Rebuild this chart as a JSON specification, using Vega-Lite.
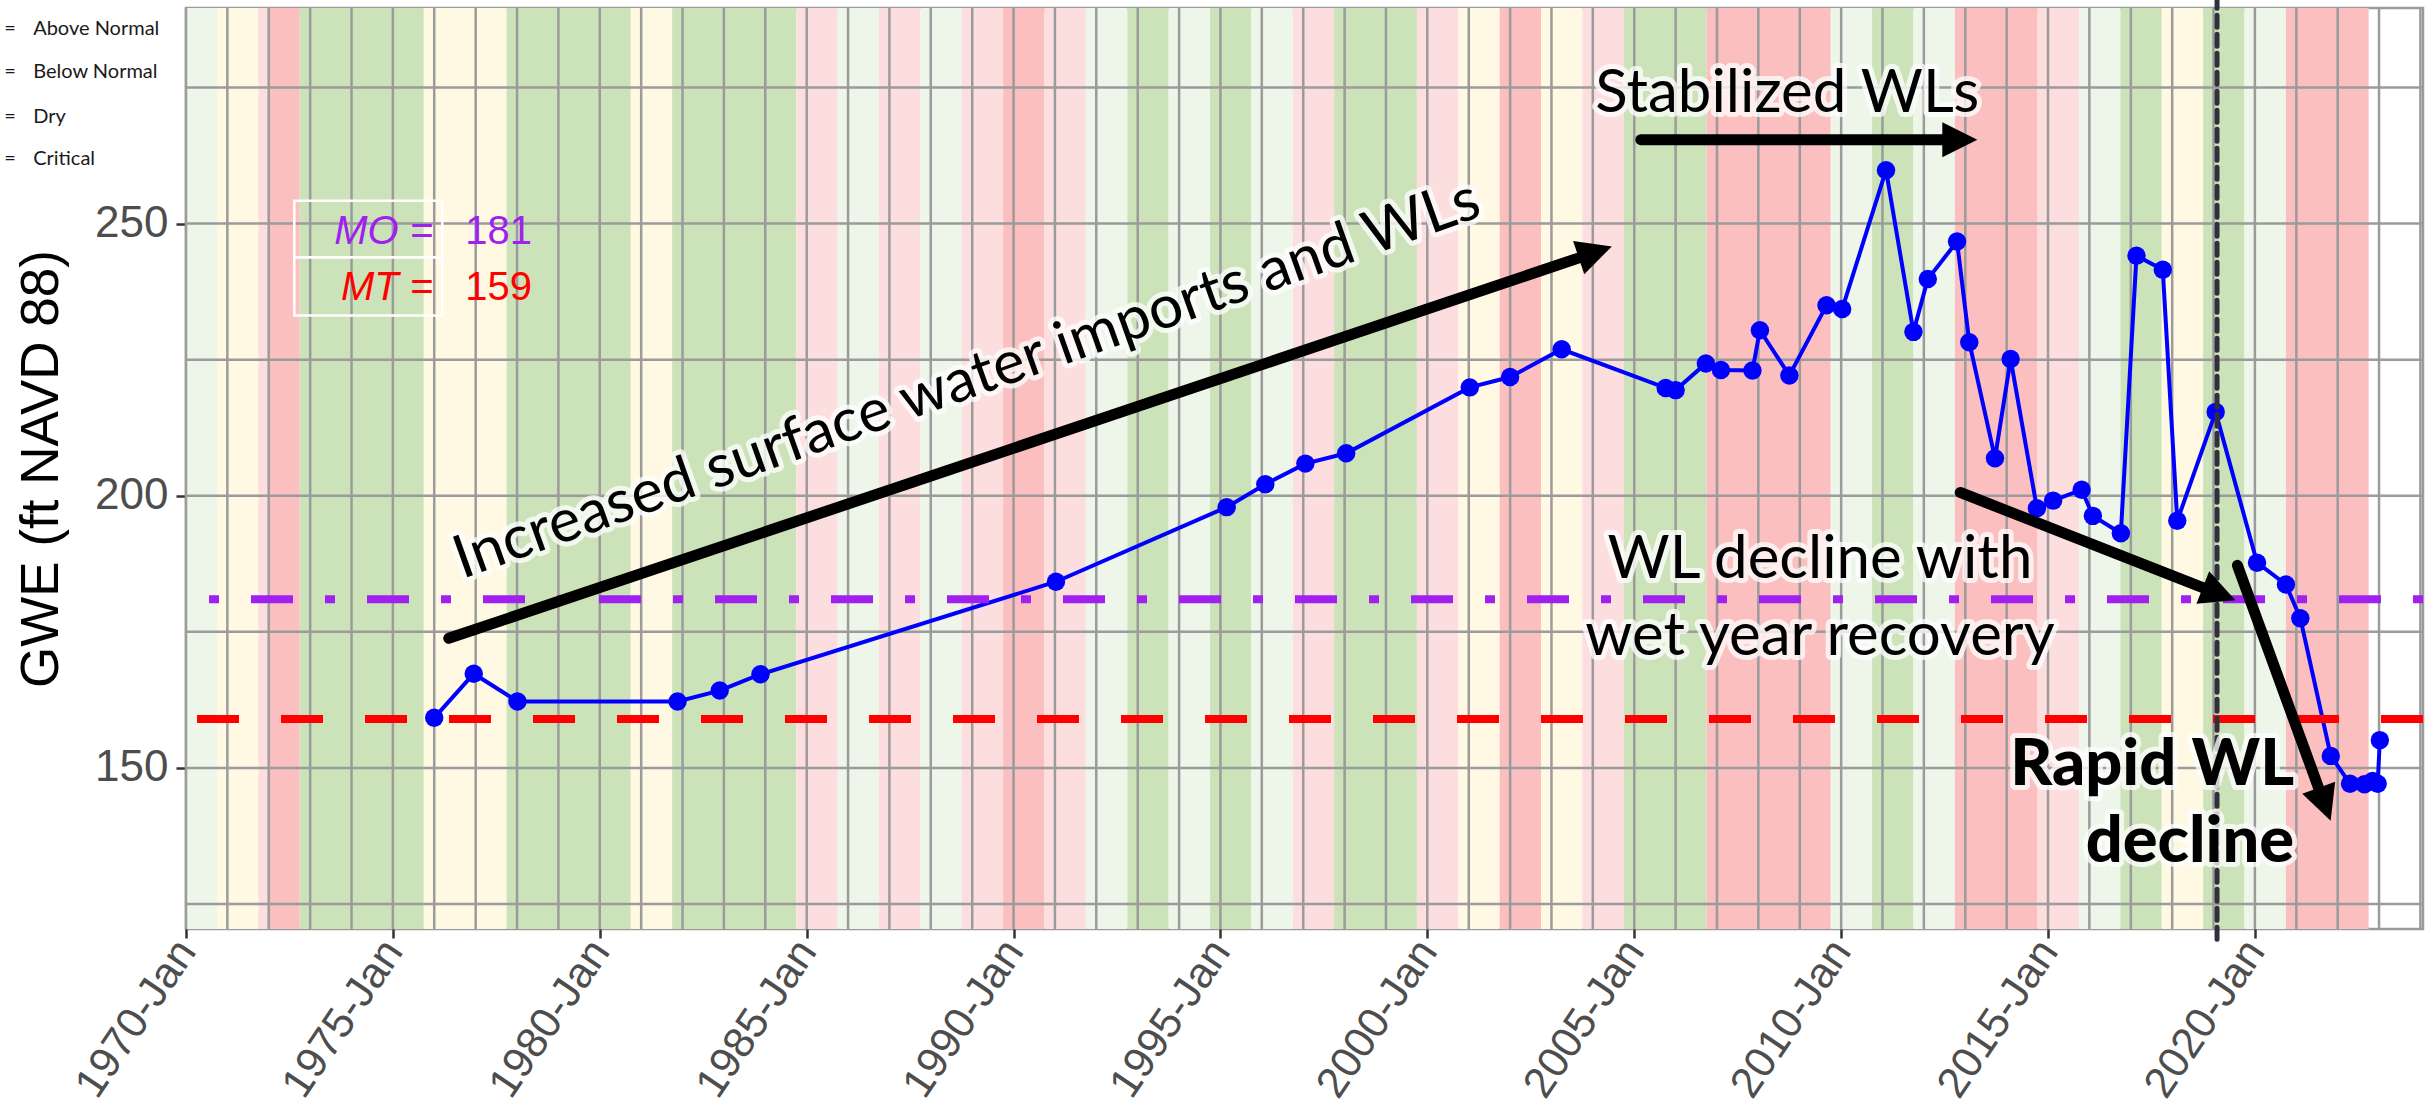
{
  "$schema": "https://vega.github.io/schema/vega-lite/v6.json",
  "width": 2237,
  "height": 921,
  "autosize": {"type": "none"},
  "padding": {"left": 186, "top": 8, "right": 12, "bottom": 178},
  "background": "white",
  "config": {"view": {"stroke": "#9B9B9B", "strokeWidth": 2.5}},
  "datasets": {
    "bands": [
      {"start": "1970-01-01", "end": "1970-10-01", "type": "Above Normal"},
      {"start": "1970-10-01", "end": "1971-10-01", "type": "Below Normal"},
      {"start": "1971-10-01", "end": "1972-01-01", "type": "Dry"},
      {"start": "1972-01-01", "end": "1972-10-01", "type": "Critical"},
      {"start": "1972-10-01", "end": "1975-10-01", "type": "Wet"},
      {"start": "1975-10-01", "end": "1977-10-01", "type": "Below Normal"},
      {"start": "1977-10-01", "end": "1980-10-01", "type": "Wet"},
      {"start": "1980-10-01", "end": "1981-10-01", "type": "Below Normal"},
      {"start": "1981-10-01", "end": "1984-10-01", "type": "Wet"},
      {"start": "1984-10-01", "end": "1985-10-01", "type": "Dry"},
      {"start": "1985-10-01", "end": "1986-10-01", "type": "Above Normal"},
      {"start": "1986-10-01", "end": "1987-10-01", "type": "Dry"},
      {"start": "1987-10-01", "end": "1988-10-01", "type": "Above Normal"},
      {"start": "1988-10-01", "end": "1989-10-01", "type": "Dry"},
      {"start": "1989-10-01", "end": "1990-10-01", "type": "Critical"},
      {"start": "1990-10-01", "end": "1991-10-01", "type": "Dry"},
      {"start": "1991-10-01", "end": "1992-10-01", "type": "Above Normal"},
      {"start": "1992-10-01", "end": "1993-10-01", "type": "Wet"},
      {"start": "1993-10-01", "end": "1994-10-01", "type": "Above Normal"},
      {"start": "1994-10-01", "end": "1995-10-01", "type": "Wet"},
      {"start": "1995-10-01", "end": "1996-10-01", "type": "Above Normal"},
      {"start": "1996-10-01", "end": "1997-10-01", "type": "Dry"},
      {"start": "1997-10-01", "end": "1999-10-01", "type": "Wet"},
      {"start": "1999-10-01", "end": "2000-10-01", "type": "Dry"},
      {"start": "2000-10-01", "end": "2001-10-01", "type": "Below Normal"},
      {"start": "2001-10-01", "end": "2002-10-01", "type": "Critical"},
      {"start": "2002-10-01", "end": "2003-10-01", "type": "Below Normal"},
      {"start": "2003-10-01", "end": "2004-10-01", "type": "Dry"},
      {"start": "2004-10-01", "end": "2006-10-01", "type": "Wet"},
      {"start": "2006-10-01", "end": "2009-10-01", "type": "Critical"},
      {"start": "2009-10-01", "end": "2010-10-01", "type": "Above Normal"},
      {"start": "2010-10-01", "end": "2011-10-01", "type": "Wet"},
      {"start": "2011-10-01", "end": "2012-10-01", "type": "Above Normal"},
      {"start": "2012-10-01", "end": "2014-10-01", "type": "Critical"},
      {"start": "2014-10-01", "end": "2015-10-01", "type": "Dry"},
      {"start": "2015-10-01", "end": "2016-10-01", "type": "Above Normal"},
      {"start": "2016-10-01", "end": "2017-10-01", "type": "Wet"},
      {"start": "2017-10-01", "end": "2018-10-01", "type": "Below Normal"},
      {"start": "2018-10-01", "end": "2019-10-01", "type": "Wet"},
      {"start": "2019-10-01", "end": "2020-10-01", "type": "Above Normal"},
      {"start": "2020-10-01", "end": "2022-10-01", "type": "Critical"}
    ],
    "vgrid": [
      {"year": "1970-01-01"}, {"year": "1971-01-01"}, {"year": "1972-01-01"}, {"year": "1973-01-01"}, {"year": "1974-01-01"},
      {"year": "1975-01-01"}, {"year": "1976-01-01"}, {"year": "1977-01-01"}, {"year": "1978-01-01"}, {"year": "1979-01-01"},
      {"year": "1980-01-01"}, {"year": "1981-01-01"}, {"year": "1982-01-01"}, {"year": "1983-01-01"}, {"year": "1984-01-01"},
      {"year": "1985-01-01"}, {"year": "1986-01-01"}, {"year": "1987-01-01"}, {"year": "1988-01-01"}, {"year": "1989-01-01"},
      {"year": "1990-01-01"}, {"year": "1991-01-01"}, {"year": "1992-01-01"}, {"year": "1993-01-01"}, {"year": "1994-01-01"},
      {"year": "1995-01-01"}, {"year": "1996-01-01"}, {"year": "1997-01-01"}, {"year": "1998-01-01"}, {"year": "1999-01-01"},
      {"year": "2000-01-01"}, {"year": "2001-01-01"}, {"year": "2002-01-01"}, {"year": "2003-01-01"}, {"year": "2004-01-01"},
      {"year": "2005-01-01"}, {"year": "2006-01-01"}, {"year": "2007-01-01"}, {"year": "2008-01-01"}, {"year": "2009-01-01"},
      {"year": "2010-01-01"}, {"year": "2011-01-01"}, {"year": "2012-01-01"}, {"year": "2013-01-01"}, {"year": "2014-01-01"},
      {"year": "2015-01-01"}, {"year": "2016-01-01"}, {"year": "2017-01-01"}, {"year": "2018-01-01"}, {"year": "2019-01-01"},
      {"year": "2020-01-01"}, {"year": "2021-01-01"}, {"year": "2022-01-01"}, {"year": "2023-01-01"}, {"year": "2024-01-01"}
    ],
    "hgrid": [{"level": 125}, {"level": 150}, {"level": 175}, {"level": 200}, {"level": 225}, {"level": 250}, {"level": 275}],
    "gwe": [
      {"date": "1976-01-01", "gwe": 159.2},
      {"date": "1976-12-15", "gwe": 167.3},
      {"date": "1978-01-05", "gwe": 162.2},
      {"date": "1981-11-18", "gwe": 162.2},
      {"date": "1982-11-25", "gwe": 164.2},
      {"date": "1983-11-20", "gwe": 167.2},
      {"date": "1991-01-10", "gwe": 184.2},
      {"date": "1995-02-25", "gwe": 197.9},
      {"date": "1996-02-01", "gwe": 202.1},
      {"date": "1997-01-20", "gwe": 205.9},
      {"date": "1998-01-15", "gwe": 207.8},
      {"date": "2001-01-10", "gwe": 219.9},
      {"date": "2002-01-01", "gwe": 221.8},
      {"date": "2003-04-01", "gwe": 226.9},
      {"date": "2005-10-05", "gwe": 219.8},
      {"date": "2006-01-01", "gwe": 219.4},
      {"date": "2006-09-25", "gwe": 224.3},
      {"date": "2007-02-05", "gwe": 223.1},
      {"date": "2007-11-10", "gwe": 223.0},
      {"date": "2008-01-15", "gwe": 230.4},
      {"date": "2008-10-01", "gwe": 222.1},
      {"date": "2009-08-25", "gwe": 235.0},
      {"date": "2010-01-10", "gwe": 234.3},
      {"date": "2011-02-01", "gwe": 259.8},
      {"date": "2011-10-01", "gwe": 230.1},
      {"date": "2012-02-05", "gwe": 239.8},
      {"date": "2012-10-20", "gwe": 246.7},
      {"date": "2013-02-05", "gwe": 228.2},
      {"date": "2013-09-20", "gwe": 206.9},
      {"date": "2014-02-05", "gwe": 225.1},
      {"date": "2014-09-25", "gwe": 197.7},
      {"date": "2015-02-15", "gwe": 199.1},
      {"date": "2015-10-25", "gwe": 201.1},
      {"date": "2016-02-01", "gwe": 196.3},
      {"date": "2016-10-05", "gwe": 193.1},
      {"date": "2017-02-20", "gwe": 244.1},
      {"date": "2017-10-10", "gwe": 241.5},
      {"date": "2018-02-15", "gwe": 195.4},
      {"date": "2019-01-20", "gwe": 215.4},
      {"date": "2020-01-20", "gwe": 187.7},
      {"date": "2020-10-01", "gwe": 183.7},
      {"date": "2021-02-05", "gwe": 177.5},
      {"date": "2021-11-01", "gwe": 152.2},
      {"date": "2022-04-20", "gwe": 147.1},
      {"date": "2022-08-25", "gwe": 147.0},
      {"date": "2022-11-05", "gwe": 147.6},
      {"date": "2022-12-20", "gwe": 147.1},
      {"date": "2023-01-08", "gwe": 155.1}
    ],
    "thresholds": [
      {"name": "MO", "value": 181, "label": "MO =", "labelX": "1975-12-23", "valueX": "1976-10-01", "labelY": 248.5},
      {"name": "MT", "value": 159, "label": "MT =", "labelX": "1975-12-23", "valueX": "1976-10-01", "labelY": 238.1}
    ],
    "box": [
      {"x1": "1972-08-14", "x2": "1976-03-12", "y1": 254.2, "y2": 243.8},
      {"x1": "1972-08-14", "x2": "1976-03-12", "y1": 243.8, "y2": 233.1}
    ],
    "legendText": [
      {"eqX": "1965-08-11", "labelX": "1966-04-23", "y": 285.8, "label": "Above Normal"},
      {"eqX": "1965-08-11", "labelX": "1966-04-23", "y": 277.9, "label": "Below Normal"},
      {"eqX": "1965-08-11", "labelX": "1966-04-23", "y": 269.6, "label": "Dry"},
      {"eqX": "1965-08-11", "labelX": "1966-04-23", "y": 261.9, "label": "Critical"}
    ],
    "arrows": [
      {"x1": "1976-05-08", "y1": 173.8, "xb": "2003-09-02", "yb": 243.7, "xt": "2004-06-17", "yt": 245.8, "dir": 71.4},
      {"x1": "2005-02-28", "y1": 265.4, "xb": "2012-06-13", "yb": 265.4, "xt": "2013-04-17", "yt": 265.4, "dir": 90},
      {"x1": "2012-11-17", "y1": 200.6, "xb": "2018-09-28", "yb": 183.1, "xt": "2019-07-13", "yt": 180.8, "dir": 111.4},
      {"x1": "2019-07-31", "y1": 187.2, "xb": "2021-07-17", "yb": 146.3, "xt": "2021-10-31", "yt": 140.3, "dir": 160}
    ],
    "notes": [
      {"group": "slope", "x": "1989-01-08", "y": 218.1, "text": "Increased surface water imports and WLs"},
      {"group": "plain", "x": "2008-09-13", "y": 270.5, "text": "Stabilized WLs"},
      {"group": "plain", "x": "2009-06-28", "y": 184.8, "text": "WL decline with"},
      {"group": "plain", "x": "2009-06-28", "y": 170.7, "text": "wet year recovery"},
      {"group": "bold", "x": "2020-12-13", "y": 146.8, "text": "Rapid WL"},
      {"group": "bold", "x": "2020-12-13", "y": 132.8, "text": "decline"}
    ]
  },
  "layer": [
    {
      "data": {"name": "bands"},
      "mark": {"type": "rect"},
      "encoding": {
        "x": {
          "field": "start", "type": "temporal",
          "scale": {"type": "utc", "nice": false, "domain": [{"year": 1970, "month": 1, "date": 1, "utc": true}, {"year": 2024, "month": 1, "date": 24, "utc": true}]},
          "axis": {
            "tickCount": {"interval": "year", "step": 5},
            "format": "%Y-%b",
            "labelAngle": -56,
            "labelAlign": "right",
            "labelBaseline": "middle",
            "labelFont": "Liberation Sans",
            "labelFontSize": 43,
            "labelColor": "#4D4D4D",
            "labelPadding": 6,
            "labelOverlap": false,
            "labelFlush": false,
            "labelBound": false,
            "tickSize": 9,
            "tickWidth": 2.5,
            "tickColor": "#333333",
            "domain": false,
            "grid": false,
            "title": null
          }
        },
        "x2": {"field": "end"},
        "color": {
          "field": "type", "type": "nominal",
          "scale": {"domain": ["Wet", "Above Normal", "Below Normal", "Dry", "Critical"], "range": ["#CCE3BA", "#EEF5E9", "#FFF8E3", "#FCDEDF", "#FBBFBF"]},
          "legend": null
        }
      }
    },
    {
      "data": {"name": "vgrid"},
      "mark": {"type": "rule", "color": "#9B9B9B", "strokeWidth": 2.5},
      "encoding": {"x": {"field": "year", "type": "temporal"}}
    },
    {
      "data": {"name": "hgrid"},
      "mark": {"type": "rule", "color": "#9B9B9B", "strokeWidth": 2.5},
      "encoding": {
        "y": {
          "field": "level", "type": "quantitative",
          "scale": {"domain": [120.4, 289.6], "nice": false, "zero": false},
          "axis": {
            "values": [150, 200, 250],
            "labelFont": "Liberation Sans",
            "labelFontSize": 44,
            "labelColor": "#4D4D4D",
            "labelPadding": 8,
            "tickSize": 10,
            "tickWidth": 2.5,
            "tickColor": "#333333",
            "domain": false,
            "grid": false,
            "title": "GWE (ft NAVD 88)",
            "titleFont": "Liberation Sans",
            "titleFontSize": 53,
            "titleFontWeight": "normal",
            "titleColor": "#000000",
            "titlePadding": 26
          }
        }
      }
    },
    {
      "data": {"name": "gwe"},
      "mark": {"type": "line", "color": "#0000FF", "strokeWidth": 4, "point": {"filled": true, "size": 340, "color": "#0000FF", "opacity": 1}},
      "encoding": {
        "x": {"field": "date", "type": "temporal"},
        "y": {"field": "gwe", "type": "quantitative"}
      }
    },
    {
      "data": {"name": "thresholds"},
      "transform": [{"filter": "datum.name === 'MT'"}],
      "mark": {"type": "rule", "color": "#FF0000", "strokeWidth": 8, "strokeDash": [42, 42]},
      "encoding": {"y": {"field": "value", "type": "quantitative"}}
    },
    {
      "data": {"name": "thresholds"},
      "transform": [{"filter": "datum.name === 'MO'"}],
      "mark": {"type": "rule", "color": "#A020F0", "strokeWidth": 8, "strokeDash": [10, 32, 42, 32]},
      "encoding": {"y": {"field": "value", "type": "quantitative"}}
    },
    {
      "data": {"values": [{"date": "2019-02-01", "lo": 118.5, "hi": 291}]},
      "mark": {"type": "rule", "color": "#30303C", "strokeWidth": 5, "strokeDash": [12, 7], "strokeCap": "round"},
      "encoding": {
        "x": {"field": "date", "type": "temporal"},
        "y": {"field": "lo", "type": "quantitative"},
        "y2": {"field": "hi"}
      }
    },
    {
      "data": {"name": "box"},
      "mark": {"type": "rect", "filled": false, "stroke": "#FFFFFF", "strokeWidth": 2.5},
      "encoding": {
        "x": {"field": "x1", "type": "temporal"},
        "x2": {"field": "x2"},
        "y": {"field": "y1", "type": "quantitative"},
        "y2": {"field": "y2"}
      }
    },
    {
      "data": {"name": "thresholds"},
      "transform": [{"filter": "datum.name === 'MO'"}],
      "mark": {"type": "text", "align": "right", "baseline": "middle", "font": "Liberation Sans", "fontSize": 40, "fontStyle": "italic", "color": "#A020F0"},
      "encoding": {
        "x": {"field": "labelX", "type": "temporal"},
        "y": {"field": "labelY", "type": "quantitative"},
        "text": {"field": "label"}
      }
    },
    {
      "data": {"name": "thresholds"},
      "transform": [{"filter": "datum.name === 'MO'"}],
      "mark": {"type": "text", "align": "left", "baseline": "middle", "font": "Liberation Sans", "fontSize": 40, "color": "#A020F0"},
      "encoding": {
        "x": {"field": "valueX", "type": "temporal"},
        "y": {"field": "labelY", "type": "quantitative"},
        "text": {"field": "value", "type": "quantitative", "format": "d"}
      }
    },
    {
      "data": {"name": "thresholds"},
      "transform": [{"filter": "datum.name === 'MT'"}],
      "mark": {"type": "text", "align": "right", "baseline": "middle", "font": "Liberation Sans", "fontSize": 40, "fontStyle": "italic", "color": "#FF0000"},
      "encoding": {
        "x": {"field": "labelX", "type": "temporal"},
        "y": {"field": "labelY", "type": "quantitative"},
        "text": {"field": "label"}
      }
    },
    {
      "data": {"name": "thresholds"},
      "transform": [{"filter": "datum.name === 'MT'"}],
      "mark": {"type": "text", "align": "left", "baseline": "middle", "font": "Liberation Sans", "fontSize": 40, "color": "#FF0000"},
      "encoding": {
        "x": {"field": "valueX", "type": "temporal"},
        "y": {"field": "labelY", "type": "quantitative"},
        "text": {"field": "value", "type": "quantitative", "format": "d"}
      }
    },
    {
      "data": {"name": "legendText"},
      "mark": {"type": "text", "align": "left", "baseline": "middle", "font": "Lato", "fontSize": 20, "color": "#1A1A1A"},
      "encoding": {
        "x": {"field": "eqX", "type": "temporal"},
        "y": {"field": "y", "type": "quantitative"},
        "text": {"value": "="}
      }
    },
    {
      "data": {"name": "legendText"},
      "mark": {"type": "text", "align": "left", "baseline": "middle", "font": "Lato", "fontSize": 20, "color": "#1A1A1A"},
      "encoding": {
        "x": {"field": "labelX", "type": "temporal"},
        "y": {"field": "y", "type": "quantitative"},
        "text": {"field": "label"}
      }
    },
    {
      "data": {"name": "arrows"},
      "mark": {"type": "rule", "color": "#000000", "strokeWidth": 11, "strokeCap": "round"},
      "encoding": {
        "x": {"field": "x1", "type": "temporal"},
        "y": {"field": "y1", "type": "quantitative"},
        "x2": {"field": "xb"},
        "y2": {"field": "yb"}
      }
    },
    {
      "data": {"name": "arrows"},
      "mark": {"type": "point", "shape": "M0,0L0.5,1L-0.5,1Z", "filled": true, "color": "#000000", "opacity": 1, "size": 4900, "strokeWidth": 0},
      "encoding": {
        "x": {"field": "xt", "type": "temporal"},
        "y": {"field": "yt", "type": "quantitative"},
        "angle": {"field": "dir", "type": "quantitative", "scale": null}
      }
    },
    {
      "data": {"name": "notes"},
      "transform": [{"filter": "datum.group === 'slope'"}],
      "mark": {"type": "text", "align": "center", "baseline": "alphabetic", "font": "Lato", "fontSize": 60, "angle": -19.6, "fill": "#FFFFFF", "stroke": "#FFFFFF", "strokeWidth": 10, "strokeJoin": "round", "opacity": 0.75},
      "encoding": {"x": {"field": "x", "type": "temporal"}, "y": {"field": "y", "type": "quantitative"}, "text": {"field": "text"}}
    },
    {
      "data": {"name": "notes"},
      "transform": [{"filter": "datum.group === 'slope'"}],
      "mark": {"type": "text", "align": "center", "baseline": "alphabetic", "font": "Lato", "fontSize": 60, "angle": -19.6, "color": "#000000"},
      "encoding": {"x": {"field": "x", "type": "temporal"}, "y": {"field": "y", "type": "quantitative"}, "text": {"field": "text"}}
    },
    {
      "data": {"name": "notes"},
      "transform": [{"filter": "datum.group === 'plain'"}],
      "mark": {"type": "text", "align": "center", "baseline": "alphabetic", "font": "Lato", "fontSize": 60, "fill": "#FFFFFF", "stroke": "#FFFFFF", "strokeWidth": 10, "strokeJoin": "round", "opacity": 0.75},
      "encoding": {"x": {"field": "x", "type": "temporal"}, "y": {"field": "y", "type": "quantitative"}, "text": {"field": "text"}}
    },
    {
      "data": {"name": "notes"},
      "transform": [{"filter": "datum.group === 'plain'"}],
      "mark": {"type": "text", "align": "center", "baseline": "alphabetic", "font": "Lato", "fontSize": 60, "color": "#000000"},
      "encoding": {"x": {"field": "x", "type": "temporal"}, "y": {"field": "y", "type": "quantitative"}, "text": {"field": "text"}}
    },
    {
      "data": {"name": "notes"},
      "transform": [{"filter": "datum.group === 'bold'"}],
      "mark": {"type": "text", "align": "right", "baseline": "alphabetic", "font": "Lato", "fontSize": 65, "fontWeight": 900, "fill": "#FFFFFF", "stroke": "#FFFFFF", "strokeWidth": 10, "strokeJoin": "round", "opacity": 0.75},
      "encoding": {"x": {"field": "x", "type": "temporal"}, "y": {"field": "y", "type": "quantitative"}, "text": {"field": "text"}}
    },
    {
      "data": {"name": "notes"},
      "transform": [{"filter": "datum.group === 'bold'"}],
      "mark": {"type": "text", "align": "right", "baseline": "alphabetic", "font": "Lato", "fontSize": 65, "fontWeight": 900, "color": "#000000"},
      "encoding": {"x": {"field": "x", "type": "temporal"}, "y": {"field": "y", "type": "quantitative"}, "text": {"field": "text"}}
    }
  ]
}
